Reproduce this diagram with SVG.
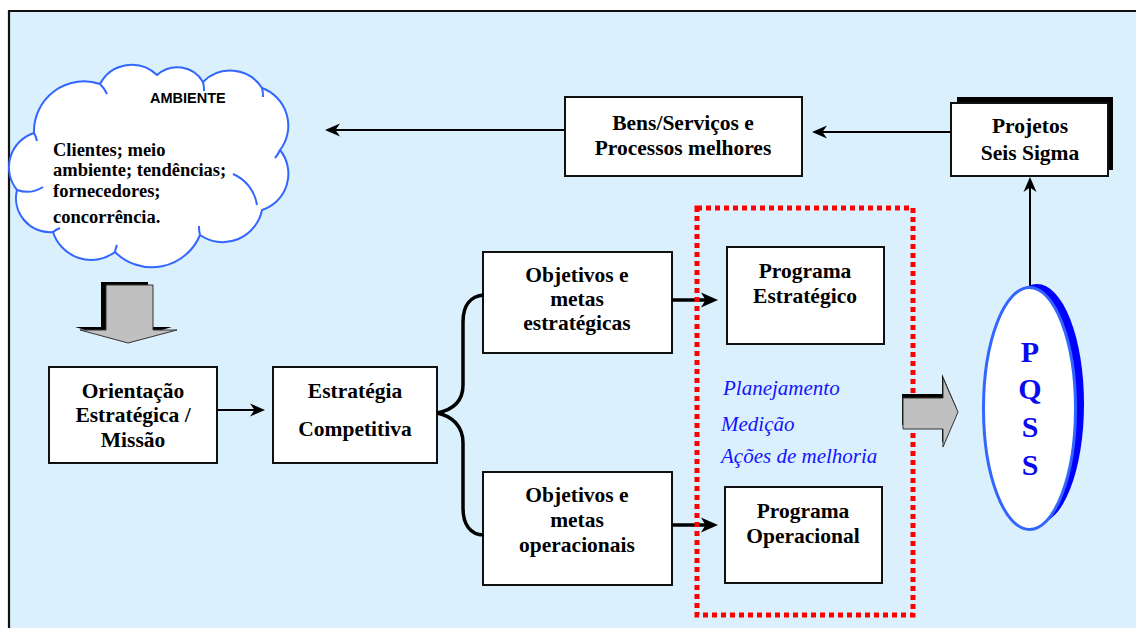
<svg xmlns="http://www.w3.org/2000/svg" width="1136" height="628" viewBox="0 0 1136 628">
  <style>
    .box { fill: #ffffff; stroke: #111111; stroke-width: 2; }
    .serif { font-family: "Liberation Serif", Tinos, "Times New Roman", "DejaVu Serif", "Noto Serif", serif; }
    .t { font-weight: bold; font-size: 21.5px; fill: #000000; text-anchor: middle; }
    .cloudt { font-weight: bold; font-size: 18.5px; fill: #000000; }
    .amb { font-family: "Liberation Sans", Arial, sans-serif; font-weight: bold; font-size: 14.5px; fill: #000000; }
    .blue { font-style: italic; font-size: 21px; fill: #1414ff; }
    .pq { font-weight: bold; font-size: 30px; fill: #0a0aee; text-anchor: middle; }
    .thin { fill: none; stroke: #000000; stroke-width: 2; }
    .thick { fill: none; stroke: #000000; stroke-width: 3.5; }
    .block { fill: #c0c0c0; stroke: #333333; stroke-width: 1; }
    .blockshadow { fill: #000000; }
  </style>
  <defs>
    <marker id="head" markerUnits="userSpaceOnUse" markerWidth="16" markerHeight="14" refX="9" refY="7" orient="auto">
      <path d="M0,0.5 L15,7 L0,13.5 L4.5,7 Z" fill="#000000"/>
    </marker>
    <marker id="headThick" markerUnits="userSpaceOnUse" markerWidth="18" markerHeight="16" refX="10" refY="8" orient="auto">
      <path d="M0,0.5 L17,8 L0,15.5 L4.5,8 Z" fill="#000000"/>
    </marker>
  </defs>

  <!-- page background with frame -->
  <rect x="0" y="0" width="1136" height="628" fill="#ffffff"/>
  <rect x="9" y="11" width="1130" height="620" fill="#daf0fd"/>
  <path d="M9,628 L9,11 L1136,11" fill="none" stroke="#111111" stroke-width="2.2"/>

  <!-- environment cloud -->
  <g id="ambiente">
    <path d="M34,133 A50,50 0 0 1 100,84 A36,36 0 0 1 157,75 A30,30 0 0 1 203,82 A38,38 0 0 1 262,88 A40,40 0 0 1 280,150 A38,38 0 0 1 262,210 A40,40 0 0 1 200,235 A52,52 0 0 1 115,252 A40,40 0 0 1 53,232 A34,34 0 0 1 17,190 A36,36 0 0 1 34,133 Z" fill="#ffffff" stroke="#3366ff" stroke-width="2"/>
    <g fill="none" stroke="#3366ff" stroke-width="2">
      <path d="M233,174 A40,40 0 0 1 257,205"/>
      <path d="M100,84 A30,30 0 0 1 107,94"/>
      <path d="M203,82 A30,30 0 0 1 204,91"/>
      <path d="M262,88 A30,30 0 0 1 263,97"/>
      <path d="M280,150 A30,30 0 0 1 275,158"/>
      <path d="M34,133 A30,30 0 0 1 37,141"/>
      <path d="M43,187 A30,30 0 0 1 17,190"/>
      <path d="M53,232 A30,30 0 0 1 60,228"/>
      <path d="M115,252 A30,30 0 0 1 117,245"/>
      <path d="M200,235 A30,30 0 0 1 199,226"/>
    </g>
    <text class="amb" x="150" y="103">AMBIENTE</text>
    <g class="serif">
      <text class="cloudt" x="53" y="156">Clientes; meio</text>
      <text class="cloudt" x="53" y="176">ambiente; tendências;</text>
      <text class="cloudt" x="53" y="197">fornecedores;</text>
      <text class="cloudt" x="53" y="223">concorrência.</text>
    </g>
  </g>

  <!-- block arrow below the cloud -->
  <g id="seta-baixo">
    <path class="blockshadow" d="M101,282 L148,282 L148,327 L172,327 L123,341 L75,327 L101,327 Z"/>
    <path class="block" d="M106,285 L153,285 L153,330 L177,330 L128,343 L80,330 L106,330 Z"/>
  </g>

  <g id="orientacao" class="serif">
    <rect class="box" x="49" y="367" width="168" height="96"/>
    <text class="t" x="133" y="398">Orientação</text>
    <text class="t" x="133" y="422">Estratégica /</text>
    <text class="t" x="133" y="447">Missão</text>
  </g>

  <g id="estrategia" class="serif">
    <rect class="box" x="273" y="367" width="164" height="96"/>
    <text class="t" x="355" y="398">Estratégia</text>
    <text class="t" x="355" y="436">Competitiva</text>
  </g>

  <g id="objetivos-estrategicos" class="serif">
    <rect class="box" x="483" y="252" width="189" height="101"/>
    <text class="t" x="577" y="282">Objetivos e</text>
    <text class="t" x="577" y="306">metas</text>
    <text class="t" x="577" y="330">estratégicas</text>
  </g>

  <g id="objetivos-operacionais" class="serif">
    <rect class="box" x="483" y="472" width="189" height="113"/>
    <text class="t" x="577" y="502">Objetivos e</text>
    <text class="t" x="577" y="527">metas</text>
    <text class="t" x="577" y="552">operacionais</text>
  </g>

  <g id="bens-servicos" class="serif">
    <rect class="box" x="565" y="97" width="237" height="79"/>
    <text class="t" x="683" y="130">Bens/Serviços e</text>
    <text class="t" x="683" y="155">Processos melhores</text>
  </g>

  <g id="projetos" class="serif">
    <rect x="957" y="97" width="156" height="73" fill="#000000"/>
    <rect class="box" x="951" y="103" width="157" height="73"/>
    <text class="t" x="1030" y="133">Projetos</text>
    <text class="t" x="1030" y="160">Seis Sigma</text>
  </g>

  <!-- connectors -->
  <g id="conectores">
    <line class="thin" x1="217" y1="410" x2="259" y2="410" marker-end="url(#head)"/>
    <path class="thick" d="M437,413 C452,410 463,402 463,385 L463,322 C463,306 470,296 484,295"/>
    <path class="thick" d="M437,413 C452,416 463,426 463,443 L463,508 C463,524 470,535 484,535"/>
    <line class="thick" x1="672" y1="300" x2="711" y2="300" marker-end="url(#headThick)"/>
    <line class="thick" x1="672" y1="525" x2="711" y2="525" marker-end="url(#headThick)"/>
    <line class="thin" x1="951" y1="132" x2="818" y2="132" marker-end="url(#head)"/>
    <line class="thin" x1="565" y1="130" x2="331" y2="130" marker-end="url(#head)"/>
    <line class="thin" x1="1030" y1="287" x2="1030" y2="183" marker-end="url(#head)"/>
  </g>

  <!-- improvement programme area -->
  <g id="programas" class="serif">
    <rect x="697" y="208" width="216" height="407" fill="none" stroke="#ff0000" stroke-width="5" stroke-dasharray="5 4"/>
    <g id="programa-estrategico">
      <rect class="box" x="727" y="247" width="157" height="97"/>
      <text class="t" x="805" y="278">Programa</text>
      <text class="t" x="805" y="303">Estratégico</text>
    </g>
    <g id="programa-operacional">
      <rect class="box" x="725" y="487" width="157" height="96"/>
      <text class="t" x="803" y="518">Programa</text>
      <text class="t" x="803" y="543">Operacional</text>
    </g>
    <text class="blue" x="723" y="395">Planejamento</text>
    <text class="blue" x="721" y="431">Medição</text>
    <text class="blue" x="721" y="463">Ações de melhoria</text>
  </g>

  <!-- block arrow towards PQSS -->
  <g id="seta-direita">
    <path class="blockshadow" d="M902,394 L942,394 L942,374 L957,409 L942,443 L942,425 L902,425 Z"/>
    <path class="block" d="M903,398 L943,398 L943,378 L958,412 L943,447 L943,429 L903,429 Z"/>
  </g>

  <g id="pqss" class="serif">
    <ellipse cx="1037" cy="404" rx="47" ry="120" fill="#0000ff"/>
    <ellipse cx="1029.5" cy="408.5" rx="46" ry="121" fill="#ffffff" stroke="#3366ff" stroke-width="3"/>
    <text class="pq" x="1030" y="362">P</text>
    <text class="pq" x="1030" y="399">Q</text>
    <text class="pq" x="1030" y="437">S</text>
    <text class="pq" x="1030" y="475">S</text>
  </g>
</svg>
